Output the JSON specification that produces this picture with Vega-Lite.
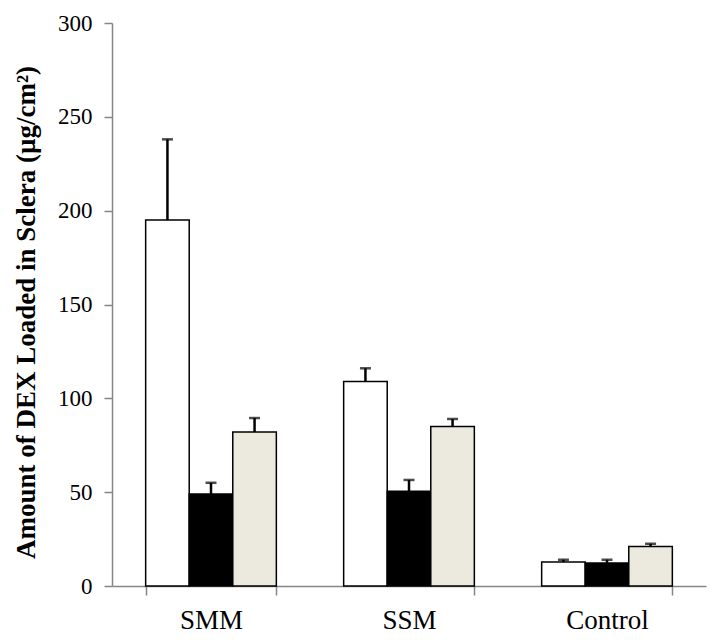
{
  "$schema": "https://vega.github.io/schema/vega-lite/v6.json",
  "autosize": {"type": "none"},
  "padding": {"left": 112, "top": 23, "right": 14, "bottom": 54},
  "width": 594,
  "height": 563,
  "background": "white",
  "config": {
    "view": {"stroke": null},
    "font": "Liberation Serif"
  },
  "data": {
    "values": [
      {"group": "SMM", "series": "Series 1", "value": 195, "upper": 238},
      {"group": "SMM", "series": "Series 2", "value": 49, "upper": 55},
      {"group": "SMM", "series": "Series 3", "value": 82, "upper": 89.5},
      {"group": "SSM", "series": "Series 1", "value": 109, "upper": 116},
      {"group": "SSM", "series": "Series 2", "value": 50.5, "upper": 56.5},
      {"group": "SSM", "series": "Series 3", "value": 85, "upper": 89},
      {"group": "Control", "series": "Series 1", "value": 12.8, "upper": 14},
      {"group": "Control", "series": "Series 2", "value": 12.3, "upper": 14},
      {"group": "Control", "series": "Series 3", "value": 21, "upper": 22.5}
    ]
  },
  "encoding": {
    "x": {
      "field": "group",
      "type": "nominal",
      "sort": ["SMM", "SSM", "Control"],
      "scale": {"paddingInner": 0.34, "paddingOuter": 0.17},
      "axis": {
        "title": null,
        "labelAngle": 0,
        "labelFont": "Liberation Serif",
        "labelFontSize": 27,
        "labelColor": "black",
        "labelPadding": 12,
        "tickBand": "extent",
        "tickSize": 9,
        "tickColor": "#868686",
        "domainColor": "#868686",
        "tickWidth": 1.5,
        "domainWidth": 1.5
      }
    },
    "xOffset": {
      "field": "series",
      "type": "nominal",
      "sort": ["Series 1", "Series 2", "Series 3"],
      "scale": {"paddingInner": 0, "paddingOuter": 0}
    }
  },
  "layer": [
    {
      "mark": {"type": "bar", "stroke": "black", "strokeWidth": 1.5},
      "encoding": {
        "y": {
          "field": "value",
          "type": "quantitative",
          "scale": {"domain": [0, 300], "nice": false},
          "axis": {
            "title": "Amount of DEX Loaded in Sclera (µg/cm²)",
            "titleFont": "Liberation Serif",
            "titleFontSize": 27,
            "titleFontWeight": "bold",
            "titleColor": "black",
            "titleX": -86,
            "titleY": 289,
            "titleAngle": 270,
            "titleAlign": "center",
            "titleBaseline": "middle",
            "values": [0, 50, 100, 150, 200, 250, 300],
            "grid": false,
            "labelFont": "Liberation Serif",
            "labelFontSize": 23,
            "labelColor": "black",
            "labelPadding": 12,
            "tickSize": 8,
            "tickColor": "#868686",
            "domainColor": "#868686",
            "tickWidth": 1.5,
            "domainWidth": 1.5
          }
        },
        "fill": {
          "field": "series",
          "type": "nominal",
          "scale": {"domain": ["Series 1", "Series 2", "Series 3"], "range": ["#FFFFFF", "#000000", "#ECEADF"]},
          "legend": null
        }
      }
    },
    {
      "mark": {"type": "rule", "color": "black", "strokeWidth": 2.5},
      "encoding": {
        "y": {"field": "value", "type": "quantitative"},
        "y2": {"field": "upper"}
      }
    },
    {
      "mark": {"type": "tick", "color": "black", "orient": "horizontal", "size": 11, "thickness": 2.5},
      "encoding": {
        "y": {"field": "upper", "type": "quantitative"}
      }
    }
  ]
}
